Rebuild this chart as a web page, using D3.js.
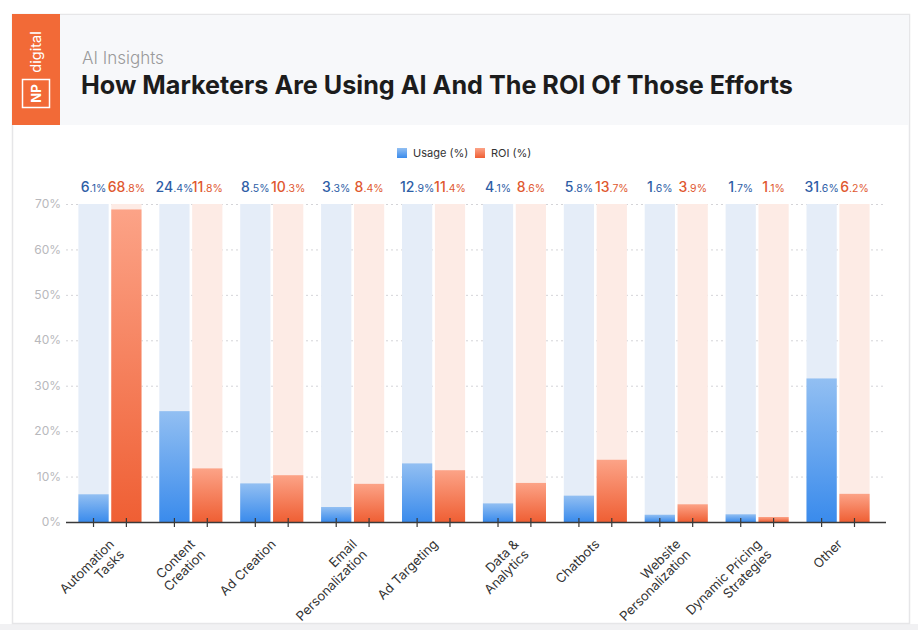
<!DOCTYPE html>
<html>
<head>
<meta charset="utf-8">
<script src="https://cdn.jsdelivr.net/npm/d3@7"></script>
<style>
  html, body { margin: 0; padding: 0; background: #ffffff; }
  svg { display: block; }
  text { font-family: "Inter", "Lato", "Noto Sans", sans-serif; }
</style>
</head>
<body>
<svg id="chart" width="918" height="630"></svg>
<script>
const categories = [
  ["Automation", "Tasks"],
  ["Content", "Creation"],
  ["Ad Creation"],
  ["Email", "Personalization"],
  ["Ad Targeting"],
  ["Data &", "Analytics"],
  ["Chatbots"],
  ["Website", "Personalization"],
  ["Dynamic Pricing", "Strategies"],
  ["Other"]
];
const usage = [6.1, 24.4, 8.5, 3.3, 12.9, 4.1, 5.8, 1.6, 1.7, 31.6];
const roi   = [68.8, 11.8, 10.3, 8.4, 11.4, 8.6, 13.7, 3.9, 1.1, 6.2];
const yTicks = [0, 10, 20, 30, 40, 50, 60, 70];
const seriesNames = ["Usage (%)", "ROI (%)"];

const svg = d3.select("#chart");
const W = 918, H = 630;

// page / card
svg.append("rect").attr("x", 0).attr("y", 0).attr("width", W).attr("height", H).attr("fill", "#ffffff");
svg.append("rect").attr("x", 0).attr("y", 624).attr("width", W).attr("height", 6).attr("fill", "#f1f1f3");
svg.append("rect").attr("x", 12.5).attr("y", 14.5).attr("width", 897).attr("height", 609)
  .attr("fill", "#ffffff").attr("stroke", "#e6e6e8").attr("stroke-width", 1.5);
svg.append("rect").attr("x", 13).attr("y", 15).attr("width", 896).attr("height", 110).attr("fill", "#f7f8fa");

// logo
svg.append("rect").attr("x", 12).attr("y", 14).attr("width", 48).attr("height", 111).attr("fill", "#f26a37");
svg.append("text").attr("transform", "translate(41,52) rotate(-90)")
  .attr("text-anchor", "middle").attr("fill", "#fff").attr("font-size", 14.5).attr("font-weight", 400)
  .text("digital");
svg.append("rect").attr("x", 22.5).attr("y", 79.5).attr("width", 27).attr("height", 28)
  .attr("fill", "none").attr("stroke", "#fff").attr("stroke-width", 1.5);
svg.append("text").attr("transform", "translate(41,93.5) rotate(-90)")
  .attr("text-anchor", "middle").attr("fill", "#fff").attr("font-size", 13).attr("font-weight", 700)
  .text("NP");

// titles
svg.append("text").attr("x", 82).attr("y", 64).attr("fill", "#9a9a9a")
  .attr("font-size", 17).attr("font-weight", 300).text("AI Insights");
svg.append("text").attr("x", 81).attr("y", 94).attr("fill", "#1c1c1c")
  .attr("font-size", 25.2).attr("font-weight", 700)
  .text("How Marketers Are Using AI And The ROI Of Those Efforts");

// scales
const x0 = d3.scaleBand().domain(d3.range(categories.length)).range([69.5, 878.5]).paddingInner(0.22).paddingOuter(0.11);
const x1 = d3.scaleBand().domain([0, 1]).range([0, x0.bandwidth()]).paddingInner(0.08);
const y = d3.scaleLinear().domain([0, 70]).range([522, 204]);

// defs gradients
const defs = svg.append("defs");
const gB = defs.append("linearGradient").attr("id", "gBlue").attr("x1", 0).attr("y1", 0).attr("x2", 0).attr("y2", 1);
gB.append("stop").attr("offset", "0%").attr("stop-color", "#92bff2");
gB.append("stop").attr("offset", "100%").attr("stop-color", "#3a8bec");
const gO = defs.append("linearGradient").attr("id", "gOrange").attr("x1", 0).attr("y1", 0).attr("x2", 0).attr("y2", 1);
gO.append("stop").attr("offset", "0%").attr("stop-color", "#fca387");
gO.append("stop").attr("offset", "100%").attr("stop-color", "#ef5f34");

// gridlines
svg.append("g").selectAll("line").data(yTicks).join("line")
  .attr("x1", 66).attr("x2", 886)
  .attr("y1", d => y(d) + 0.5).attr("y2", d => y(d) + 0.5)
  .attr("stroke", "#d4d4d8").attr("stroke-width", 1).attr("stroke-dasharray", "2,3");

// y labels
svg.append("g").selectAll("text").data(yTicks).join("text")
  .attr("x", 61).attr("y", d => y(d)).attr("dy", "0.35em")
  .attr("text-anchor", "end").attr("fill", "#b8b8bc").attr("font-size", 12)
  .text(d => d + "%");

const series = [
  { vals: usage, bg: "#e5edf8", fill: "url(#gBlue)", label: "#2e5ea6" },
  { vals: roi, bg: "#fdebe5", fill: "url(#gOrange)", label: "#e0582f" }
];

const groups = svg.append("g").selectAll("g").data(categories).join("g")
  .attr("transform", (d, i) => `translate(${x0(i)},0)`);

series.forEach((s, si) => {
  groups.append("rect")
    .attr("x", x1(si)).attr("width", x1.bandwidth())
    .attr("y", y(70)).attr("height", y(0) - y(70)).attr("fill", s.bg);
  groups.append("rect")
    .attr("x", x1(si)).attr("width", x1.bandwidth())
    .attr("y", (d, i) => y(s.vals[i])).attr("height", (d, i) => y(0) - y(s.vals[i]))
    .attr("fill", s.fill);
  const t = groups.append("text")
    .attr("x", x1(si) + x1.bandwidth() / 2).attr("y", 192)
    .attr("text-anchor", "middle").attr("fill", s.label);
  t.each(function(d, i) {
    const v = s.vals[i].toFixed(1);
    const parts = v.split(".");
    const el = d3.select(this);
    el.append("tspan").attr("font-size", 14).attr("font-weight", 500).text(parts[0]);
    el.append("tspan").attr("font-size", 10.5).text("." + parts[1] + "%");
  });
});

// axis line and ticks
svg.append("line").attr("x1", 66).attr("x2", 886).attr("y1", 522.5).attr("y2", 522.5)
  .attr("stroke", "#3a3a3a").attr("stroke-width", 1.5);
series.forEach((s, si) => {
  groups.append("line")
    .attr("x1", x1(si) + x1.bandwidth() / 2).attr("x2", x1(si) + x1.bandwidth() / 2)
    .attr("y1", 518).attr("y2", 527).attr("stroke", "#3a3a3a").attr("stroke-width", 1.2);
});

// x labels
groups.append("text")
  .attr("transform", `translate(${x0.bandwidth() / 2 + 5},545) rotate(-45)`)
  .attr("text-anchor", "end").attr("fill", "#333").attr("font-size", 13)
  .each(function(d) {
    const el = d3.select(this);
    d.forEach((line, li) => {
      el.append("tspan").attr("x", 0).attr("dy", li === 0 ? 0 : 14.5).text(line);
    });
  });

// legend
const legend = svg.append("g");
const legItems = [
  { name: seriesNames[0], fill: "url(#gBlue)", x: 397 },
  { name: seriesNames[1], fill: "url(#gOrange)", x: 475 }
];
legItems.forEach(l => {
  legend.append("rect").attr("x", l.x).attr("y", 148).attr("width", 10).attr("height", 10).attr("fill", l.fill);
  legend.append("text").attr("x", l.x + 16).attr("y", 157).attr("fill", "#333").attr("font-size", 11).text(l.name);
});
</script>
</body>
</html>
